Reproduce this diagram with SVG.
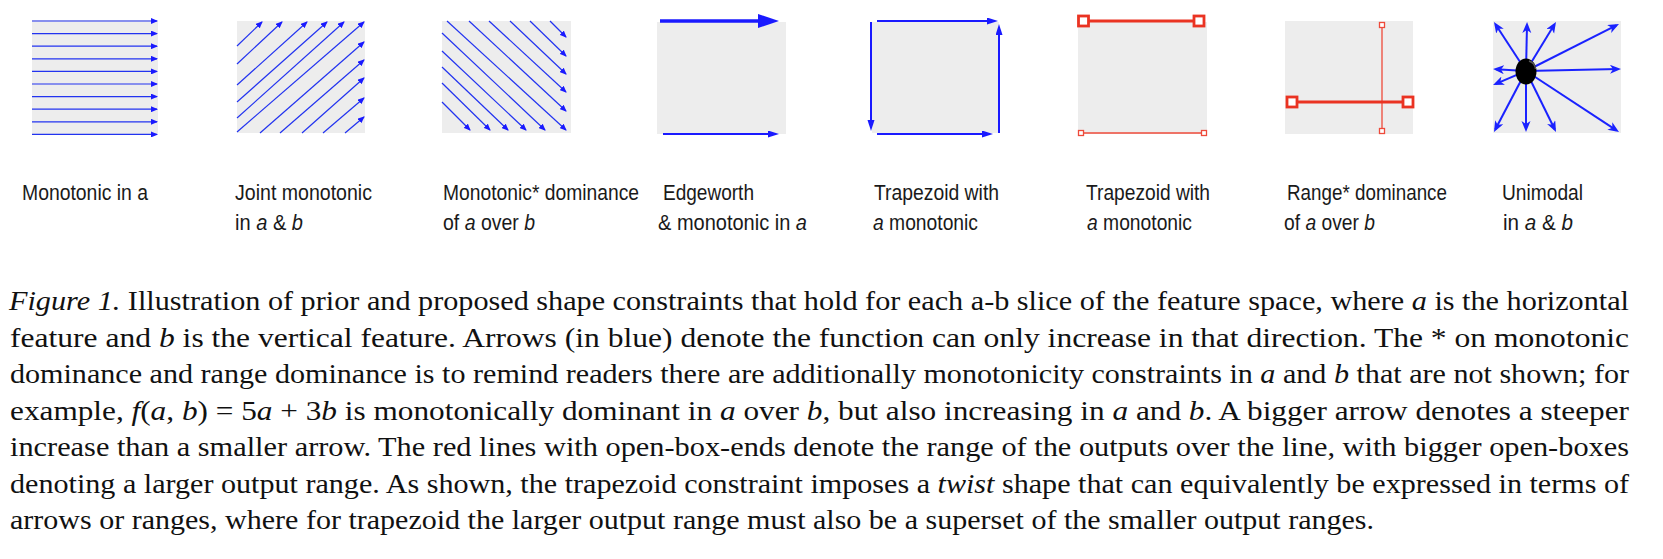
<svg xmlns="http://www.w3.org/2000/svg" width="1663" height="559" viewBox="0 0 1663 559">
<style>
.bg{fill:#ededed}
.th{stroke:#2233f0;stroke-width:1.2;fill:none;marker-end:url(#ahs)}
.md{stroke:#1a1aff;stroke-width:2;fill:none;marker-end:url(#ahm)}
.um{stroke:#1a22ff;stroke-width:2;fill:none;marker-end:url(#ahu)}
.rk{stroke:#ea3322;stroke-width:2.8;fill:none}
.rkb{stroke:#ea3322;stroke-width:2.8;fill:#fff}
.rt{stroke:#ee4a3a;stroke-width:1.3;fill:none}
.rtb{stroke:#ee4a3a;stroke-width:1.3;fill:#fff}
.lb{font-family:"Liberation Sans",Arial,sans-serif;font-size:22px;fill:#1a1a1a}
.cp{font-family:"Liberation Serif","Times New Roman",serif;font-size:28px;fill:#111}
.i{font-style:italic}
</style>
<defs>
<marker id="ahs" markerUnits="userSpaceOnUse" markerWidth="8" markerHeight="6" refX="6" refY="3" orient="auto"><path d="M0,0 L7,3 L0,6 z" fill="#1a1aff"/></marker>
<marker id="ahm" markerUnits="userSpaceOnUse" markerWidth="12" markerHeight="8" refX="8" refY="3.5" orient="auto"><path d="M0,0 L11,3.5 L0,7 z" fill="#1a1aff"/></marker>
<marker id="ahL" markerUnits="userSpaceOnUse" markerWidth="22" markerHeight="14" refX="12" refY="7" orient="auto"><path d="M0,0 L21,7 L0,14 z" fill="#1a1aff"/></marker>
<marker id="ahu" markerUnits="userSpaceOnUse" markerWidth="12" markerHeight="10" refX="8" refY="4.5" orient="auto"><path d="M0,0 L11,4.5 L0,9 L3,4.5 z" fill="#1a22ff"/></marker>
</defs>

<g id="panel-monotonic">
<rect class="bg" x="32" y="20" width="126" height="115"/>
<g id="connectors-monotonic">
<line class="th" x1="32" y1="21" x2="157" y2="21"/>
<line class="th" x1="32" y1="33.6" x2="157" y2="33.6"/>
<line class="th" x1="32" y1="46.2" x2="157" y2="46.2"/>
<line class="th" x1="32" y1="58.8" x2="157" y2="58.8"/>
<line class="th" x1="32" y1="71.4" x2="157" y2="71.4"/>
<line class="th" x1="32" y1="84" x2="157" y2="84"/>
<line class="th" x1="32" y1="96.6" x2="157" y2="96.6"/>
<line class="th" x1="32" y1="109.2" x2="157" y2="109.2"/>
<line class="th" x1="32" y1="121.8" x2="157" y2="121.8"/>
<line class="th" x1="32" y1="134.4" x2="157" y2="134.4"/>
</g>
<text class="lb" x="22" y="200" textLength="126" lengthAdjust="spacingAndGlyphs">Monotonic in a</text>
</g>

<g id="panel-joint">
<rect class="bg" x="237" y="21" width="128" height="112"/>
<g id="connectors-joint">
<line class="th" x1="237" y1="46" x2="262" y2="22"/>
<line class="th" x1="237" y1="64" x2="282" y2="22"/>
<line class="th" x1="237" y1="85" x2="307" y2="22"/>
<line class="th" x1="237" y1="102" x2="327" y2="22"/>
<line class="th" x1="237" y1="118" x2="344" y2="22"/>
<line class="th" x1="237" y1="132" x2="364" y2="22"/>
<line class="th" x1="260" y1="133" x2="364" y2="42"/>
<line class="th" x1="280" y1="133" x2="364" y2="60"/>
<line class="th" x1="302" y1="133" x2="364" y2="78"/>
<line class="th" x1="323" y1="133" x2="364" y2="98"/>
<line class="th" x1="345" y1="133" x2="364" y2="117"/>
</g>
<text class="lb" x="235" y="200" textLength="137" lengthAdjust="spacingAndGlyphs">Joint monotonic</text>
<text class="lb" x="235" y="230" textLength="68" lengthAdjust="spacingAndGlyphs">in <tspan class="i">a</tspan> &amp; <tspan class="i">b</tspan></text>
</g>

<g id="panel-dominance">
<rect class="bg" x="442" y="21" width="129" height="112"/>
<g id="connectors-dominance">
<line class="th" x1="447" y1="21" x2="566" y2="130"/>
<line class="th" x1="469" y1="21" x2="566" y2="111"/>
<line class="th" x1="489" y1="21" x2="566" y2="92"/>
<line class="th" x1="510" y1="21" x2="566" y2="74"/>
<line class="th" x1="530" y1="21" x2="566" y2="56"/>
<line class="th" x1="550" y1="21" x2="566" y2="37"/>
<line class="th" x1="442" y1="33" x2="545" y2="130"/>
<line class="th" x1="442" y1="51" x2="526" y2="130"/>
<line class="th" x1="442" y1="67" x2="508" y2="130"/>
<line class="th" x1="442" y1="83" x2="490" y2="130"/>
<line class="th" x1="442" y1="102" x2="470" y2="130"/>
</g>
<text class="lb" x="443" y="200" textLength="196" lengthAdjust="spacingAndGlyphs">Monotonic* dominance</text>
<text class="lb" x="443" y="230" textLength="92" lengthAdjust="spacingAndGlyphs">of <tspan class="i">a</tspan> over <tspan class="i">b</tspan></text>
</g>

<g id="panel-edgeworth">
<rect class="bg" x="657" y="22" width="129" height="112"/>
<g id="connectors-edgeworth">
<line x1="660" y1="21" x2="770" y2="21" stroke="#1a1aff" stroke-width="3.6" marker-end="url(#ahL)"/>
<line class="md" x1="663" y1="134" x2="776" y2="134"/>
</g>
<text class="lb" x="663" y="200" textLength="91" lengthAdjust="spacingAndGlyphs">Edgeworth</text>
<text class="lb" x="658" y="230" textLength="149" lengthAdjust="spacingAndGlyphs">&amp; monotonic in <tspan class="i">a</tspan></text>
</g>

<g id="panel-trapezoid-arrows">
<rect class="bg" x="872" y="22" width="127" height="111"/>
<g id="connectors-trapezoid">
<line class="md" x1="877" y1="21" x2="995" y2="21"/>
<line class="md" x1="999" y1="133" x2="999" y2="27"/>
<line class="md" x1="871" y1="22" x2="871" y2="128"/>
<line class="md" x1="877" y1="134" x2="990" y2="134"/>
</g>
<text class="lb" x="874" y="200" textLength="125" lengthAdjust="spacingAndGlyphs">Trapezoid with</text>
<text class="lb" x="873" y="230" textLength="105" lengthAdjust="spacingAndGlyphs"><tspan class="i">a</tspan> monotonic</text>
</g>

<g id="panel-trapezoid-ranges">
<rect class="bg" x="1078" y="22" width="129" height="112"/>
<line class="rk" x1="1088" y1="21" x2="1194" y2="21"/>
<rect class="rkb" x="1078.5" y="16" width="10" height="10"/>
<rect class="rkb" x="1194" y="16" width="10" height="10"/>
<line class="rt" x1="1083.5" y1="133" x2="1201.5" y2="133"/>
<rect class="rtb" x="1078.5" y="130.5" width="5" height="5"/>
<rect class="rtb" x="1201.5" y="130.5" width="5" height="5"/>
<text class="lb" x="1086" y="200" textLength="124" lengthAdjust="spacingAndGlyphs">Trapezoid with</text>
<text class="lb" x="1087" y="230" textLength="105" lengthAdjust="spacingAndGlyphs"><tspan class="i">a</tspan> monotonic</text>
</g>

<g id="panel-range-dominance">
<rect class="bg" x="1285" y="21" width="128" height="113"/>
<line class="rt" x1="1382" y1="27.5" x2="1382" y2="128.5"/>
<line class="rk" x1="1297" y1="102" x2="1403" y2="102"/>
<rect class="rtb" x="1379.5" y="22.5" width="5" height="5"/>
<rect class="rtb" x="1379.5" y="128.5" width="5" height="5"/>
<rect class="rkb" x="1287" y="97" width="10" height="10"/>
<rect class="rkb" x="1403" y="97" width="10" height="10"/>
<text class="lb" x="1287" y="200" textLength="160" lengthAdjust="spacingAndGlyphs">Range* dominance</text>
<text class="lb" x="1284" y="230" textLength="91" lengthAdjust="spacingAndGlyphs">of <tspan class="i">a</tspan> over <tspan class="i">b</tspan></text>
</g>

<g id="panel-unimodal">
<rect class="bg" x="1493" y="21" width="128" height="112"/>
<g id="connectors-unimodal">
<line class="um" x1="1526" y1="71" x2="1495.6" y2="24.5"/>
<line class="um" x1="1526" y1="71" x2="1527" y2="25"/>
<line class="um" x1="1526" y1="71" x2="1554.4" y2="24.6"/>
<line class="um" x1="1526" y1="71" x2="1616.3" y2="25.4"/>
<line class="um" x1="1526" y1="71" x2="1618" y2="69.1"/>
<line class="um" x1="1526" y1="71" x2="1496" y2="69.2"/>
<line class="um" x1="1526" y1="71" x2="1495.8" y2="83.8"/>
<line class="um" x1="1526" y1="71" x2="1495.4" y2="129.3"/>
<line class="um" x1="1526" y1="71" x2="1526" y2="129"/>
<line class="um" x1="1526" y1="71" x2="1554.7" y2="129.3"/>
<line class="um" x1="1526" y1="71" x2="1616.5" y2="130.4"/>
</g>
<ellipse cx="1526" cy="71.5" rx="10.5" ry="13" fill="#000"/>
<path d="M1529,61 Q1535,63 1535.5,69" stroke="#555" stroke-width="1.5" fill="none"/>
<text class="lb" x="1502" y="200" textLength="81" lengthAdjust="spacingAndGlyphs">Unimodal</text>
<text class="lb" x="1503" y="230" textLength="70" lengthAdjust="spacingAndGlyphs">in <tspan class="i">a</tspan> &amp; <tspan class="i">b</tspan></text>
</g>

<g id="caption">
<text class="cp" x="9" y="310" textLength="1620" lengthAdjust="spacingAndGlyphs"><tspan class="i">Figure 1.</tspan> Illustration of prior and proposed shape constraints that hold for each a-b slice of the feature space, where <tspan class="i">a</tspan> is the horizontal</text>
<text class="cp" x="10" y="346.5" textLength="1619" lengthAdjust="spacingAndGlyphs">feature and <tspan class="i">b</tspan> is the vertical feature.  Arrows (in blue) denote the function can only increase in that direction.  The * on monotonic</text>
<text class="cp" x="10" y="383" textLength="1619" lengthAdjust="spacingAndGlyphs">dominance and range dominance is to remind readers there are additionally monotonicity constraints in <tspan class="i">a</tspan> and <tspan class="i">b</tspan> that are not shown; for</text>
<text class="cp" x="10" y="419.5" textLength="1619" lengthAdjust="spacingAndGlyphs">example, <tspan class="i">f</tspan>(<tspan class="i">a</tspan>, <tspan class="i">b</tspan>) = 5<tspan class="i">a</tspan> + 3<tspan class="i">b</tspan> is monotonically dominant in <tspan class="i">a</tspan> over <tspan class="i">b</tspan>, but also increasing in <tspan class="i">a</tspan> and <tspan class="i">b</tspan>.  A bigger arrow denotes a steeper</text>
<text class="cp" x="10" y="456" textLength="1619" lengthAdjust="spacingAndGlyphs">increase than a smaller arrow. The red lines with open-box-ends denote the range of the outputs over the line, with bigger open-boxes</text>
<text class="cp" x="10" y="492.5" textLength="1619" lengthAdjust="spacingAndGlyphs">denoting a larger output range. As shown, the trapezoid constraint imposes a <tspan class="i">twist</tspan> shape that can equivalently be expressed in terms of</text>
<text class="cp" x="10" y="529" textLength="1364" lengthAdjust="spacingAndGlyphs">arrows or ranges, where for trapezoid the larger output range must also be a superset of the smaller output ranges.</text>
</g>
</svg>
